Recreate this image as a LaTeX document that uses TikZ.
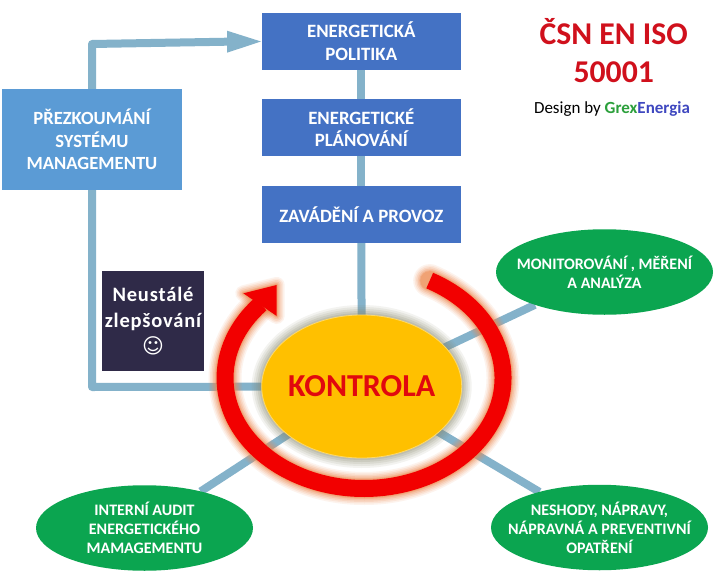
\documentclass[tikz,border=0pt]{standalone}
\usepackage{fontspec}
\setmainfont{Carlito}
\usetikzlibrary{shapes.geometric,backgrounds}
\definecolor{linkc}{HTML}{84B2CA}
\definecolor{planc}{HTML}{4472C4}
\definecolor{revc}{HTML}{5B9BD5}
\definecolor{greenc}{HTML}{0BA550}
\definecolor{darkc}{HTML}{2F2A48}
\definecolor{goldc}{HTML}{FFC000}
\definecolor{redc}{HTML}{F20000}
\definecolor{glowc}{HTML}{EE8A50}
\definecolor{haloc}{HTML}{8A8A70}
\definecolor{titlec}{HTML}{D0101C}
\definecolor{grexc}{HTML}{2CA03C}
\definecolor{enerc}{HTML}{3F48C0}
\tikzset{
  x=1pt,y=-1pt,
  planbox/.style={fill=planc,text=white,font=\bfseries\fontsize{18.8}{22.5}\selectfont,align=center,minimum width=199pt,inner sep=0pt,outer sep=0pt},
  revbox/.style={fill=revc,text=white,font=\bfseries\fontsize{18.6}{22.5}\selectfont,align=center,minimum width=180pt,minimum height=101pt,inner sep=0pt,outer sep=0pt},
  darkbox/.style={fill=darkc,text=white,font=\bfseries\fontsize{20.5}{26}\selectfont,align=center,minimum width=102pt,minimum height=100pt,inner sep=0pt,outer sep=0pt},
  greenoval/.style={ellipse,fill=greenc,text=white,font=\bfseries\fontsize{16}{19}\selectfont,align=center,inner xsep=-40pt,inner ysep=-8pt,outer sep=0pt,minimum width=217pt,minimum height=85.5pt},
  linkline/.style={draw=linkc,line width=8pt},
  ringpath/.style={line cap=butt},
}
\begin{document}
\begin{tikzpicture}
\useasboundingbox (0,0) rectangle (715,573);
\node[planbox,minimum height=57pt] (pol) at (361.3,41.2) {ENERGETICKÁ\\POLITIKA};
\node[planbox,minimum height=57pt] (plan) at (361.3,127.7) {ENERGETICKÉ\\PLÁNOVÁNÍ};
\node[planbox,minimum height=57pt] (zav) at (361.3,214.3) {ZAVÁDĚNÍ A PROVOZ};
\node[revbox] (rev) at (92,139.7) {PŘEZKOUMÁNÍ\\SYSTÉMU\\MANAGEMENTU};
\node[darkbox] (neu) at (153,321) {\addfontfeature{LetterSpace=4}Neustálé\\\addfontfeature{LetterSpace=4}zlepšování\\{\fontspec{DejaVu Sans}\fontsize{21}{21}\selectfont ☺}};
\node[greenoval] (mon) at (604.5,272) {MONITOROVÁNÍ , MĚŘENÍ\\A ANALÝZA};
\node[greenoval] (aud) at (144.5,528) {INTERNÍ AUDIT\\ENERGETICKÉHO\\MAMAGEMENTU};
\node[greenoval] (nes) at (599.5,527.5) {NESHODY, NÁPRAVY,\\NÁPRAVNÁ A PREVENTIVNÍ\\OPATŘENÍ};
\coordinate (k) at (361.7,386.5);
\coordinate (turna) at (92,44);
\coordinate (turnb) at (92,387);
\coordinate (tip) at (261,41.5);
\coordinate (headbase) at (227,41.7);
% connectors and halo go behind every node
\begin{scope}[on background layer]
\fill[white] (0,0) rectangle (715,573);
\draw[linkline] (pol) -- (plan);
\draw[linkline] (plan) -- (zav);
\draw[linkline] (zav) -- (k);
\draw[linkline] (k) -- (mon);
\draw[linkline] (k) -- (aud);
\draw[linkline] (k) -- (nes);
\draw[linkline,line join=round] (k) -- (turnb) -- (rev.south -| turnb);
\draw[linkline,line join=round] (rev.north -| turna) -- (turna) -- (headbase);
\fill[linkc] (tip) -- (227,30.7) -- (227,52.7) -- cycle;
\foreach \g/\o in {10/.10,8/.12,6/.14,4/.17,2/.2}{
  \fill[haloc,opacity=\o] (k) ellipse ({100+\g} and {71.5+\g});
}
\foreach \w/\o in {33/.10,30/.13,27/.17,24/.22,21/.3,19/.4}{
  \draw[glowc,opacity=\o,line width=\w pt,ringpath,line cap=round] (429.7,280.6) arc[x radius=139,y radius=-110.5,start angle=61.8,end angle=-222];
  \draw[glowc,opacity=\o,line width=\w pt-17pt,line join=round] (276.7,285) -- (243.3,293.3) -- (276.7,316) -- cycle;
}
\end{scope}
\node[ellipse,fill=goldc,draw=goldc!60!white,line width=.8pt,minimum width=200pt,minimum height=143pt,inner xsep=-20pt,inner ysep=0pt,outer sep=0pt,text=titlec!50!redc,font=\bfseries\fontsize{32}{32}\selectfont] (kon) at (k) {KONTROLA};
% ring
\draw[redc,line width=17pt,ringpath] (429.7,280.6) arc[x radius=139,y radius=-110.5,start angle=61.8,end angle=-222];
\fill[redc] (276.7,285) -- (243.3,293.3) -- (276.7,316) -- cycle;
% title
\node[text=titlec,font=\bfseries\fontsize{31.7}{38}\selectfont,align=center,inner sep=0pt] (title) at (613.7,51) {ČSN EN ISO\\50001};
\node[font=\fontsize{17}{17}\selectfont,inner sep=0pt] (by) at (612,109) {Design by {\bfseries\textcolor{grexc}{Grex}\textcolor{enerc}{Energia}}};
\end{tikzpicture}
\end{document}
